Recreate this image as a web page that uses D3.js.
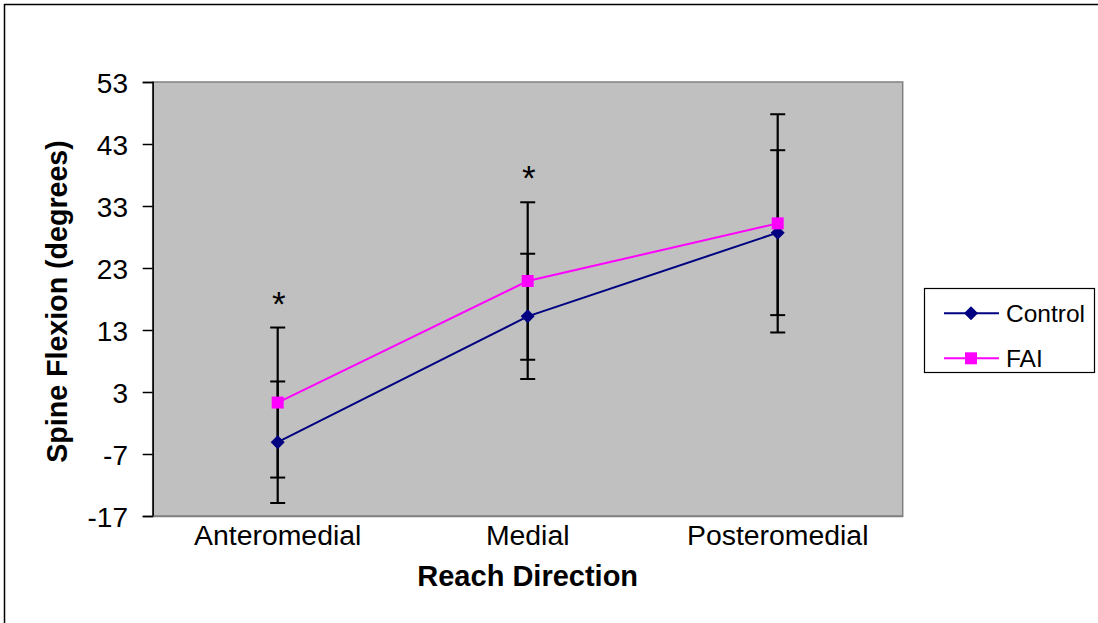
<!DOCTYPE html>
<html>
<head>
<meta charset="utf-8">
<script src="https://cdn.jsdelivr.net/npm/d3@7/dist/d3.min.js"></script>
<style>
  html, body { margin: 0; padding: 0; background: #fff; }
  svg { display: block; font-family: "Liberation Sans", Arial, sans-serif; }
</style>
</head>
<body>
<svg id="chart" width="1098" height="623"></svg>
<script>
// ---- data ----
const categories = ["Anteromedial", "Medial", "Posteromedial"];
const controlMean = [-5.1, 15.2, 28.7];
const controlSD   = [9.8, 10.1, 13.3];
const faiMean     = [1.3, 20.9, 30.2];
const faiSD       = [12.1, 12.7, 17.6];
const significant = [true, true, false];
const yTicks = [-17, -7, 3, 13, 23, 33, 43, 53];
const seriesNames = ["Control", "FAI"];
const seriesColors = ["#000080", "#FF00FF"];

// ---- layout ----
const svg = d3.select("#chart");
const plot = { left: 152.7, right: 902.7, top: 82, bottom: 516 };

// outer frame (left and top visible)
svg.append("rect").attr("x", 4.5).attr("y", 4.5).attr("width", 1100).attr("height", 640)
  .attr("fill", "none").attr("stroke", "#000").attr("stroke-width", 1.5);

const x = d3.scaleBand().domain(categories).range([plot.left, plot.right]).padding(0);
const cx = c => x(c) + x.bandwidth() / 2;
const y = d3.scaleLinear().domain([-17, 53]).range([plot.bottom, plot.top]);

// plot area
svg.append("rect")
  .attr("x", plot.left).attr("y", plot.top)
  .attr("width", plot.right - plot.left).attr("height", plot.bottom - plot.top)
  .attr("fill", "#C0C0C0").attr("stroke", "#808080").attr("stroke-width", 1.5);

// y axis
const yAxis = svg.append("g").attr("transform", `translate(${plot.left},0)`)
  .call(d3.axisLeft(y).tickValues(yTicks).tickSize(10).tickPadding(14.7).tickFormat(d => String(d)));
yAxis.select(".domain").attr("stroke", "#000").attr("stroke-width", 1.5);
yAxis.selectAll(".tick line").attr("stroke", "#000").attr("stroke-width", 1.5);
yAxis.selectAll("text").attr("font-size", 28).attr("fill", "#000")
  .attr("font-family", "Liberation Sans, Arial, sans-serif").attr("dy", "0.36em");

// x axis
const xAxis = svg.append("g").attr("transform", `translate(0,${plot.bottom})`)
  .call(d3.axisBottom(x).tickSize(0).tickPadding(9));
xAxis.select(".domain").attr("stroke", "#808080").attr("stroke-width", 1.5);
xAxis.selectAll("text").attr("font-size", 28.4).attr("fill", "#000")
  .attr("font-family", "Liberation Sans, Arial, sans-serif");

// axis titles
svg.append("text").attr("x", (plot.left + plot.right) / 2).attr("y", 586)
  .attr("text-anchor", "middle").attr("font-size", 29).attr("font-weight", "bold")
  .text("Reach Direction");
svg.append("text").attr("transform", `translate(66.5,${(plot.top + plot.bottom) / 2 + 2.5}) rotate(-90)`)
  .attr("text-anchor", "middle").attr("font-size", 28.6).attr("font-weight", "bold")
  .text("Spine Flexion (degrees)");

// marker shapes
const diamondPath = "M0,-7L7,0L0,7L-7,0Z";
const squarePath = "M-6,-6H6V6H-6Z";

const series = [
  { name: seriesNames[0], color: seriesColors[0], mean: controlMean, sd: controlSD, marker: diamondPath },
  { name: seriesNames[1], color: seriesColors[1], mean: faiMean, sd: faiSD, marker: squarePath }
];

// error bars
const capW = 7.5;
series.forEach(s => {
  const g = svg.append("g");
  categories.forEach((c, i) => {
    const hi = s.mean[i] + s.sd[i], lo = s.mean[i] - s.sd[i];
    g.append("line").attr("x1", cx(c)).attr("x2", cx(c)).attr("y1", y(hi)).attr("y2", y(lo))
      .attr("stroke", "#000").attr("stroke-width", 2.2);
    [hi, lo].forEach(v => {
      g.append("line").attr("x1", cx(c) - capW).attr("x2", cx(c) + capW).attr("y1", y(v)).attr("y2", y(v))
        .attr("stroke", "#000").attr("stroke-width", 2);
    });
  });
});

// lines and markers
series.forEach(s => {
  const line = d3.line().x((d, i) => cx(categories[i])).y(d => y(d));
  svg.append("path").datum(s.mean).attr("d", line)
    .attr("fill", "none").attr("stroke", s.color).attr("stroke-width", 2);
});
series.forEach(s => {
  svg.append("g").selectAll("path").data(s.mean).join("path")
    .attr("transform", (d, i) => `translate(${cx(categories[i])},${y(d)})`)
    .attr("d", s.marker).attr("fill", s.color);
});

// significance asterisks
categories.forEach((c, i) => {
  if (!significant[i]) return;
  const top = Math.max(controlMean[i] + controlSD[i], faiMean[i] + faiSD[i]);
  svg.append("text").attr("x", cx(c) + 1).attr("y", y(top) - 27 + 15)
    .attr("text-anchor", "middle").attr("font-size", 35).attr("fill", "#000").text("*");
});

// legend
const lg = svg.append("g");
lg.append("rect").attr("x", 924.5).attr("y", 288.5).attr("width", 170).attr("height", 84)
  .attr("fill", "#fff").attr("stroke", "#000").attr("stroke-width", 1.2);
const legendY = [313.3, 358.3];
series.forEach((s, i) => {
  lg.append("line").attr("x1", 944).attr("x2", 999).attr("y1", legendY[i]).attr("y2", legendY[i])
    .attr("stroke", s.color).attr("stroke-width", 2);
  lg.append("path").attr("transform", `translate(971,${legendY[i]})`).attr("d", s.marker).attr("fill", s.color);
  lg.append("text").attr("x", 1006).attr("y", legendY[i]).attr("dy", "0.36em")
    .attr("font-size", 24.5).attr("fill", "#000").text(s.name);
});
</script>
</body>
</html>
